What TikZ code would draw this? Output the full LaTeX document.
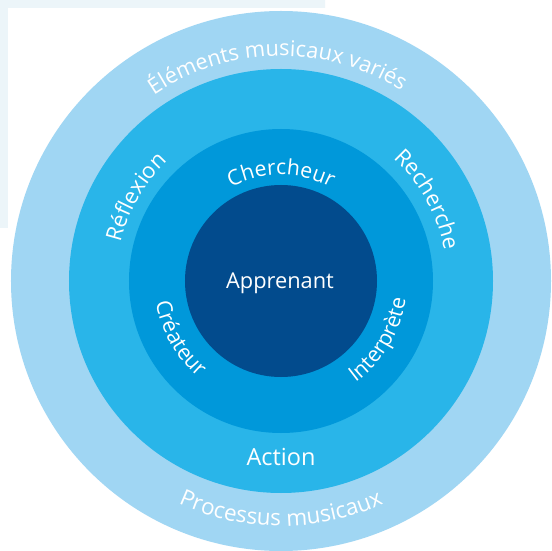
\documentclass[tikz,border=0pt]{standalone}
\usepackage{fontspec}
\setmainfont{Open Sans}
\usetikzlibrary{decorations.text}
\definecolor{ringA}{RGB}{160,214,243}
\definecolor{ringB}{RGB}{41,181,233}
\definecolor{ringC}{RGB}{0,152,218}
\definecolor{ringD}{RGB}{2,75,141}
\definecolor{faint}{RGB}{236,245,249}
\tikzset{
  disc/.style={circle, inner sep=0pt, draw=none},
  lbl/.style={text=white, inner sep=0pt, font=\fontsize{#1}{#1}\selectfont},
  arctext/.style 2 args={decorate, decoration={text along path, text align=center, text color=white, text={|\fontsize{#1}{#1}\selectfont|#2}}}
}
\begin{document}
\begin{tikzpicture}[x=1pt,y=1pt]
\useasboundingbox (-281,-270) rectangle (270,281);
\fill[white] (-281,-270) rectangle (270,281);
% faint scan frame
\fill[faint] (-281,281) -- (44,281) -- (44,273) -- (-273,273) -- (-273,53) -- (-281,53) -- cycle;
% rings
\node[disc, fill=ringA, minimum size=540pt] (outer) at (0,0) {};
\node[disc, fill=ringB, minimum size=424pt] (second) at (0,0) {};
\node[disc, fill=ringC, minimum size=304pt] (third) at (0,0) {};
\node[disc, fill=ringD, minimum size=192pt] (core) at (0,0) {};
% labels
\node[lbl=21.8] (apprenant) at (-1,-2) {Apprenant};
\node[lbl=23.5] (action) at (0,-176) {Action};
\path[arctext={21.8}{Éléments musicaux variés}] (151:225pt) arc[start angle=151, end angle=31, radius=225pt];
\path[arctext={22.5}{Processus musicaux}] (206:245pt) arc[start angle=206, end angle=334, radius=245pt];
\path[arctext={21.2}{Chercheur}] (150:106pt) arc[start angle=150, end angle=30, radius=106pt];
\path[arctext={22}{Réflexion}] (195:165pt) arc[start angle=195, end angle=105, radius=165pt];
\path[arctext={22}{Recherche}] (74:166pt) arc[start angle=74, end angle=-16, radius=166pt];
\path[arctext={21.5}{Créateur}] (160:127pt) arc[start angle=160, end angle=259, radius=127pt];
\path[arctext={21.2}{Interprète}] (279:126pt) arc[start angle=279, end angle=379, radius=126pt];
\end{tikzpicture}
\end{document}
